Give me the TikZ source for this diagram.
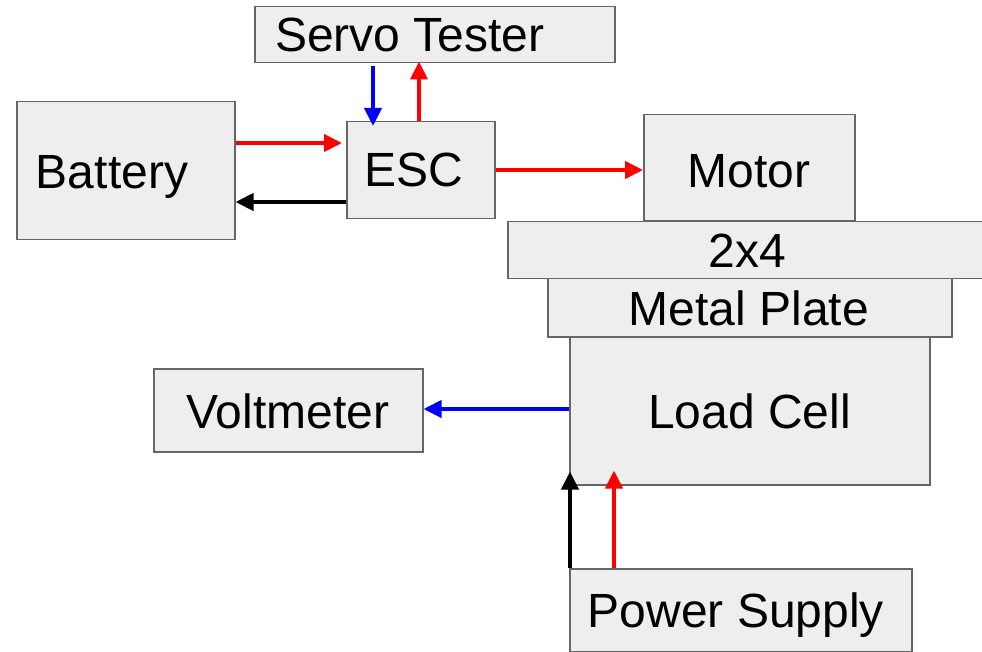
\documentclass[tikz,border=0pt]{standalone}
\usepackage{fontspec}
\setmainfont{Liberation Sans}
\usetikzlibrary{arrows.meta,calc}
\definecolor{boxfill}{HTML}{EEEEEE}
\definecolor{boxline}{HTML}{666666}
\definecolor{wred}{HTML}{FF0000}
\definecolor{wblue}{HTML}{0000FF}
\begin{document}
\begin{tikzpicture}[x=1pt,y=-1pt,
 box/.style={draw=boxline,fill=boxfill,line width=1.5pt,inner sep=0,anchor=north west},
 lbl/.style={anchor=base,inner sep=0,font=\fontsize{48}{56}\selectfont},
 wire/.style={line width=4pt,-{Triangle[length=18pt,width=17pt]}},
]
\useasboundingbox (0,0) rectangle (982,652);
% boxes
\node[box,minimum width=360pt,minimum height=56pt] (st) at (254,6) {};
\node[box,minimum width=218pt,minimum height=138pt] (bat) at (16,101) {};
\node[box,minimum width=148pt,minimum height=97pt] (esc) at (346,121) {};
\node[box,minimum width=211pt,minimum height=106pt] (motor) at (643,114) {};
\node[box,minimum width=485pt,minimum height=57pt] (wood) at (507,221) {};
\node[box,minimum width=404pt,minimum height=58pt] (plate) at (547,278) {};
\node[box,minimum width=360pt,minimum height=148pt] (lc) at (569,336) {};
\node[box,minimum width=269pt,minimum height=83pt] (vm) at (153,368) {};
\node[box,minimum width=342pt,minimum height=83pt] (ps) at (569,568) {};
% labels
\node[lbl,anchor=base west] (stl) at (275,52) {Servo Tester};
\node[lbl] (batl) at (112,189) {Battery};
\node[lbl] (escl) at (414,187) {ESC};
\node[lbl] (motorl) at (749,188) {Motor};
\node[lbl] (woodl) at (747,268) {2x4};
\node[lbl] (platel) at (749,325) {Metal Plate};
\node[lbl] (lcl) at (749.5,428) {Load Cell};
\node[lbl] (vml) at (288,428) {Voltmeter};
\node[lbl] (psl) at (736,627) {Power Supply};
% connectors
\draw[wire,wblue] ($(st.south west)+(119,3)$) -- ($(esc.north west)+(27,5)$);
\draw[wire,wred] ($(esc.north west)+(73,0)$) -- ($(st.south west)+(165,-2)$);
\draw[wire,wred] ($(bat.north east)+(0,42)$) -- ($(esc.north west)+(-4,22)$);
\draw[wire,black] ($(esc.north west)+(0,81)$) -- ($(bat.north east)+(0,101)$);
\draw[wire,wred] ($(esc.north east)+(0,49)$) -- ($(motor.north west)+(0,56)$);
\draw[wire,wblue] ($(lc.north west)+(0,73)$) -- ($(vm.north east)+(0,41)$);
\draw[wire,black] ($(ps.north west)+(1,0)$) -- ($(lc.south west)+(1,-14)$);
\draw[wire,wred] ($(ps.north west)+(45,0)$) -- ($(lc.south west)+(45,-15)$);
\end{tikzpicture}
\end{document}
